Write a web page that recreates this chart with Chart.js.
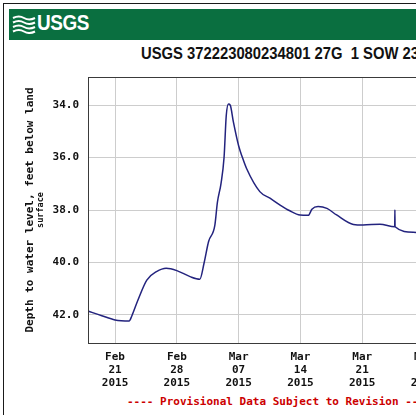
<!DOCTYPE html>
<html>
<head>
<meta charset="utf-8">
<script src="https://cdn.jsdelivr.net/npm/chart.js@4.4.1/dist/chart.umd.min.js"></script>
<style>
  body { margin: 0; width: 416px; height: 415px; overflow: hidden; background: #fff; position: relative; }
  #frame { position: absolute; left: 3px; top: 3px; width: 520px; height: 520px; border: 1.5px solid #1a1a1a; }
  #banner { position: absolute; left: 9px; top: 9px; width: 500px; height: 31px; background: #0a6f40; }
  #logo { position: absolute; left: 3px; top: 6px; }
  #logoText { position: absolute; left: 37px; top: 10px; color: #fff; font: bold 22px "Liberation Sans", Arial, sans-serif; line-height: 26px; transform: scaleX(0.86); transform-origin: left; letter-spacing: -0.5px; }
  #title { position: absolute; left: 141px; top: 44px; font: bold 17px "Liberation Sans", Arial, sans-serif; line-height: 19px; color: #111; white-space: pre; transform: scaleX(0.87); transform-origin: left; }
  #footer { position: absolute; left: 127px; top: 395px; font: bold 11px "DejaVu Sans Mono", monospace; color: #cc0000; white-space: pre; }
  canvas { position: absolute; left: 0; top: 0; }
</style>
</head>
<body>
<div id="frame"></div>
<div id="banner">
  <svg id="logo" width="24" height="19" viewBox="0 0 24 19">
    <path d="M1 3 Q7 0 12 3 T23 3" stroke="#fff" stroke-width="2" fill="none"/>
    <path d="M1 7.5 Q7 4.5 12 7.5 T23 7.5" stroke="#fff" stroke-width="2" fill="none"/>
    <path d="M1 12 Q7 9 12 12 T23 12" stroke="#fff" stroke-width="2" fill="none"/>
    <path d="M1 16.5 Q7 13.5 12 16.5 T23 16.5" stroke="#fff" stroke-width="2" fill="none"/>
  </svg>
</div>
<div id="logoText">USGS</div>
<div id="title">USGS 372223080234801 27G  1 SOW 23</div>
<div id="footer">---- Provisional Data Subject to Revision ----</div>
<canvas id="chart" width="497" height="415"></canvas>
<script>
// days counted from Feb 0, 2015 (Mar 1 = day 29)
const days = [17.94, 19.5, 21.0, 22.6, 22.9, 23.6, 24.6, 25.7, 26.8, 28.0, 29.5, 30.6, 31.1, 31.6, 32.3, 32.6, 33.0, 33.35, 33.6, 33.85, 34.05, 34.4, 35.0, 35.4, 35.9, 37.4, 38.55, 39.7, 40.8, 41.95, 42.9, 43.3, 44.0, 45.0, 46.1, 48.0, 49.1, 51.0, 52.68, 52.7, 52.72, 54.8, 57.0];
const depth = [41.85, 42.03, 42.19, 42.23, 42.04, 41.43, 40.67, 40.35, 40.22, 40.31, 40.54, 40.64, 40.0, 39.2, 38.6, 37.7, 37.0, 36.0, 34.4, 33.96, 34.0, 34.63, 35.55, 35.97, 36.42, 37.3, 37.55, 37.81, 38.03, 38.19, 38.2, 37.97, 37.87, 37.94, 38.19, 38.55, 38.57, 38.54, 38.64, 38.0, 38.64, 38.85, 38.95];

const xTickDays = [21, 28, 35, 42, 49, 56];
const xTickLabels = [['Feb', '21', '2015'], ['Feb', '28', '2015'], ['Mar', '07', '2015'], ['Mar', '14', '2015'], ['Mar', '21', '2015'], ['Mar', '28', '2015']];
const yTicks = [34, 36, 38, 40, 42];

const tickFont = { family: '"DejaVu Sans Mono", monospace', size: 11, weight: 'bold', lineHeight: 1.16 };

// box around the plot and the two-line axis title
const extras = {
    id: 'extras',
    afterDraw(chart) {
        const ctx = chart.ctx;
        const a = chart.chartArea;
        ctx.save();
        ctx.strokeStyle = '#3a3a3a';
        ctx.lineWidth = 1;
        ctx.strokeRect(a.left + 0.5, a.top + 0.5, a.right - a.left, a.bottom - a.top);

        const cy = (a.top + a.bottom) / 2;
        ctx.fillStyle = '#111';
        ctx.textAlign = 'center';
        ctx.textBaseline = 'middle';
        ctx.translate(30, cy);
        ctx.rotate(-Math.PI / 2);
        ctx.font = 'bold 11px "DejaVu Sans Mono", monospace';
        ctx.fillText('Depth to water level, feet below land', 0, 0);
        ctx.font = 'bold 8.5px "DejaVu Sans Mono", monospace';
        ctx.fillText('surface', 0, 11);
        ctx.restore();
    }
};

new Chart(document.getElementById('chart'), {
    type: 'line',
    data: {
        datasets: [{
            data: days.map((d, i) => ({ x: d, y: depth[i] })),
            borderColor: '#23237e',
            borderWidth: 1.5,
            pointRadius: 0,
            cubicInterpolationMode: 'monotone'
        }]
    },
    options: {
        responsive: false,
        animation: false,
        devicePixelRatio: 1,
        layout: { padding: { top: 77, left: 0, right: 20, bottom: 22 } },
        plugins: { legend: { display: false }, tooltip: { enabled: false } },
        scales: {
            x: {
                type: 'linear',
                min: 17.94,
                max: 62,
                afterBuildTicks: scale => { scale.ticks = xTickDays.map(v => ({ value: v })); },
                afterFit: scale => { scale.height = 50; },
                grid: { color: '#cdcdcd', drawTicks: false },
                border: { display: false },
                ticks: {
                    autoSkip: false,
                    maxRotation: 0,
                    padding: 8,
                    color: '#111',
                    font: tickFont,
                    callback: (v, i) => xTickLabels[i]
                }
            },
            y: {
                reverse: true,
                min: 32.93,
                max: 43.07,
                afterBuildTicks: scale => { scale.ticks = yTicks.map(v => ({ value: v })); },
                afterFit: scale => { scale.width = 88; },
                grid: { color: '#cdcdcd', drawTicks: false },
                border: { display: false },
                ticks: {
                    padding: 9,
                    color: '#111',
                    font: tickFont,
                    callback: v => v.toFixed(1)
                }
            }
        }
    },
    plugins: [extras]
});
</script>
</body>
</html>
